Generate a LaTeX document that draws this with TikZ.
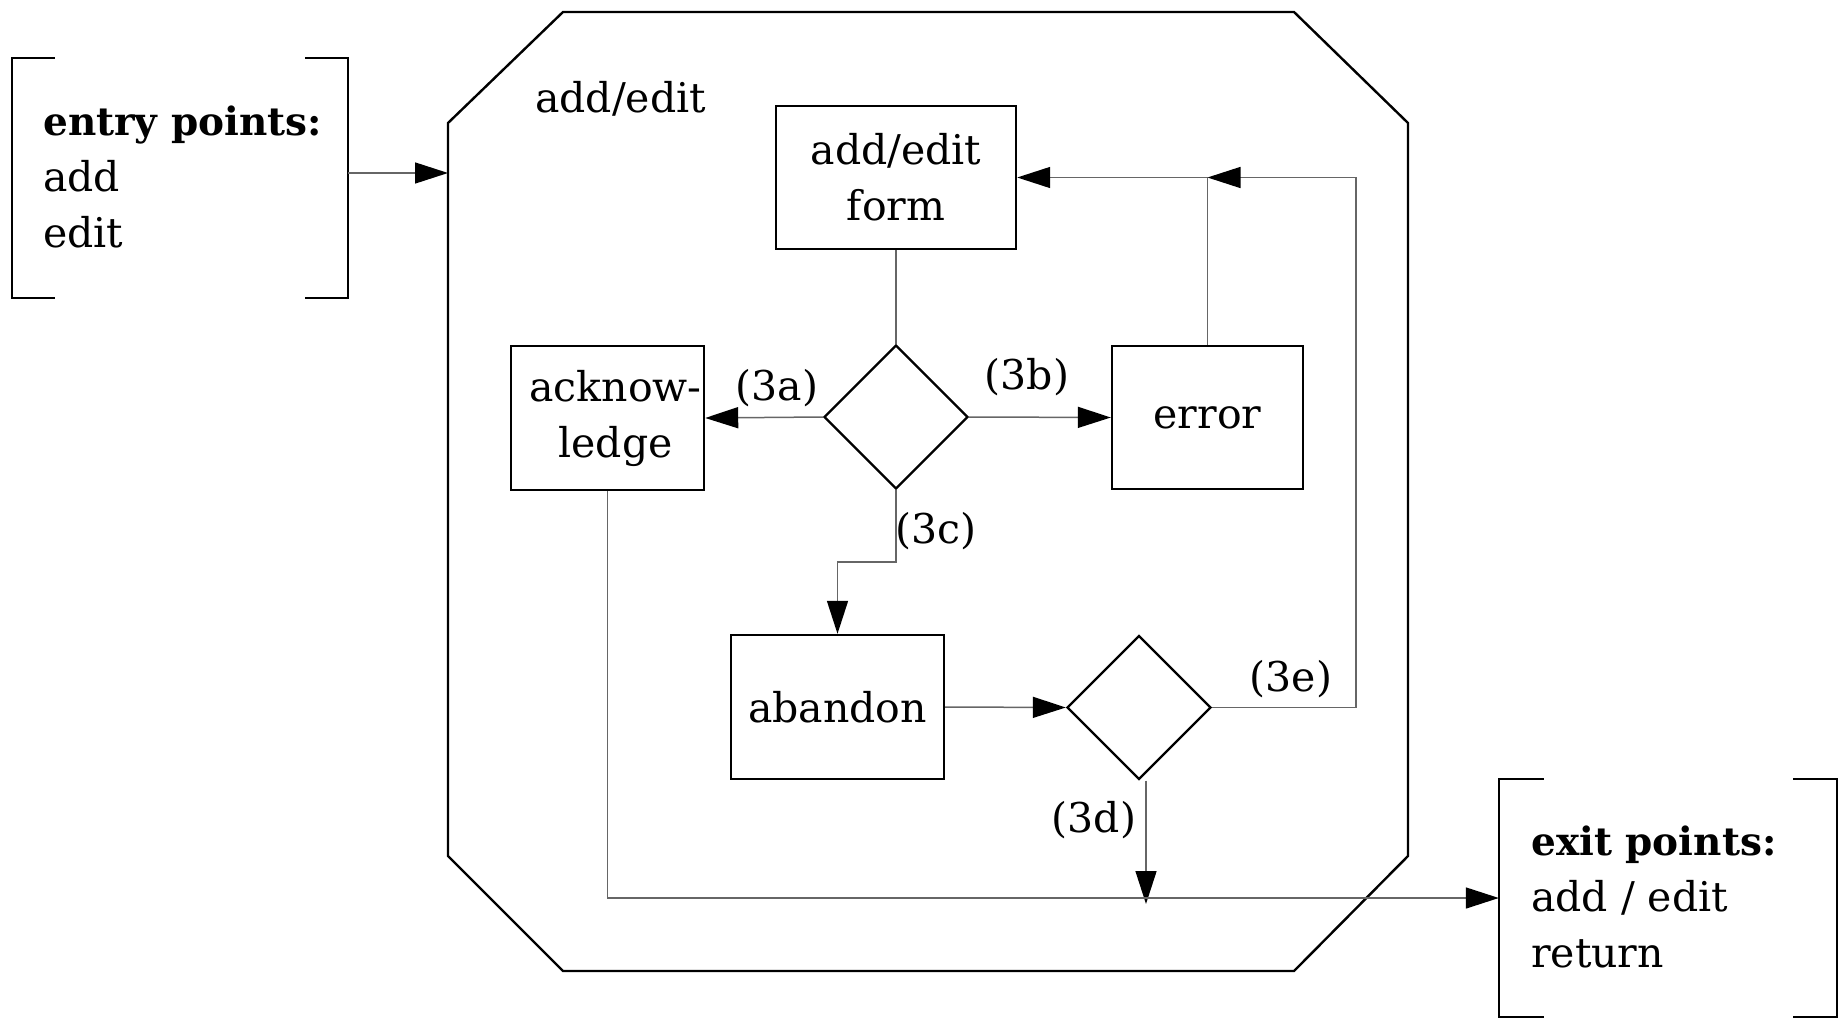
\documentclass[tikz,border=0pt]{standalone}
\usepackage{fontspec}
\setmainfont{DejaVu Serif}
\usetikzlibrary{arrows.meta,shapes.geometric}
\newcommand\dgfont{\fontsize{41}{56}\selectfont}
\newcommand\dgbold[1]{{\fontsize{39}{56}\selectfont\bfseries #1}}
\begin{document}
\begin{tikzpicture}[x=1pt,y=-1pt,
  box/.style={draw, line width=2.4pt, align=center, inner sep=0pt, font=\dgfont},
  dec/.style={diamond, draw, line width=2.4pt, minimum width=144pt, minimum height=144pt, inner sep=0pt},
  frame/.style={line width=2.4pt},
  conn/.style={draw=black!60, line width=1.5pt},
  arr/.style={conn, -{Triangle[length=33pt,width=21pt,color=black]}},
  lbl/.style={font=\dgfont, inner sep=0pt},
  txt/.style={font=\dgfont, align=left, inner sep=0pt, anchor=west}]
\useasboundingbox (0,0) rectangle (1843,1019);
% module octagon
\draw[frame] (563,12) -- (1294,12) -- (1408,123) -- (1408,856) -- (1294,971)
  -- (563,971) -- (448,856) -- (448,123) -- cycle;
\coordinate (octL) at (448,173);
\node[font=\dgfont, anchor=west, inner sep=0pt] (title) at (535,99) {add/edit};
% entry bracket
\node[minimum width=336pt, minimum height=240pt, inner sep=0pt] (entry) at (180,178) {};
\draw[frame] ([xshift=43pt]entry.north west) -- (entry.north west) -- (entry.south west) -- ++(43,0);
\draw[frame] ([xshift=-43pt]entry.north east) -- (entry.north east) -- (entry.south east) -- ++(-43,0);
\node[txt] (entrytxt) at (43,177) {\dgbold{entry points:}\\add\\edit};
% exit bracket
\node[minimum width=338pt, minimum height=238pt, inner sep=0pt] (exit) at (1668,898) {};
\draw[frame] ([xshift=45pt]exit.north west) -- (exit.north west) -- (exit.south west) -- ++(45,0);
\draw[frame] ([xshift=-44pt]exit.north east) -- (exit.north east) -- (exit.south east) -- ++(-44,0);
\node[txt] (exittxt) at (1531,897) {\dgbold{exit points:}\\add / edit\\return};
% nodes
\node[box, minimum width=240pt, minimum height=143pt] (form) at (896,177.5) {add/edit\\form};
\node[dec] (d1) at (896,417) {};
\node[box, minimum width=193pt, minimum height=144pt] (ack) at (607.5,418) {\hspace*{16pt}acknow-\\\hspace*{16pt}ledge};
\node[box, minimum width=191pt, minimum height=143pt] (err) at (1207.5,417.5) {error};
\node[box, minimum width=213pt, minimum height=144pt] (aban) at (837.5,707) {abandon};
\node[dec] (d2) at (1139,707.5) {};
% labels
\node[lbl] (l3a) at (777,388) {(3a)};
\node[lbl] (l3b) at (1027,377) {(3b)};
\node[lbl] (l3c) at (936,531) {(3c)};
\node[lbl] (l3d) at (1094,820) {(3d)};
\node[lbl] (l3e) at (1291,679) {(3e)};
% helper coordinates
\coordinate (c3c) at (0,562);
\coordinate (c3e) at (1356,0);
\coordinate (c3d) at (1146,904);
\coordinate (j) at (err.north |- form.east);
% connectors
\draw[arr] (entry.east |- octL) -- (octL);
\draw[conn] (form.south) -- (d1.north);
\draw[arr] (d1.west) -- (ack.east);
\draw[arr] (d1.east) -- (err.west);
\draw[arr] (d1.south) -- (d1.south |- c3c) -| (aban.north);
\draw[arr] (err.north) |- (form.east);
\draw[arr] (d2.east) -| (c3e |- j) -- (j);
\draw[arr] (aban.east) -- (d2.west);
\draw[arr] (d2.south -| c3d) -- (c3d);
\draw[arr] (ack.south) |- (exit.west);
\end{tikzpicture}
\end{document}
